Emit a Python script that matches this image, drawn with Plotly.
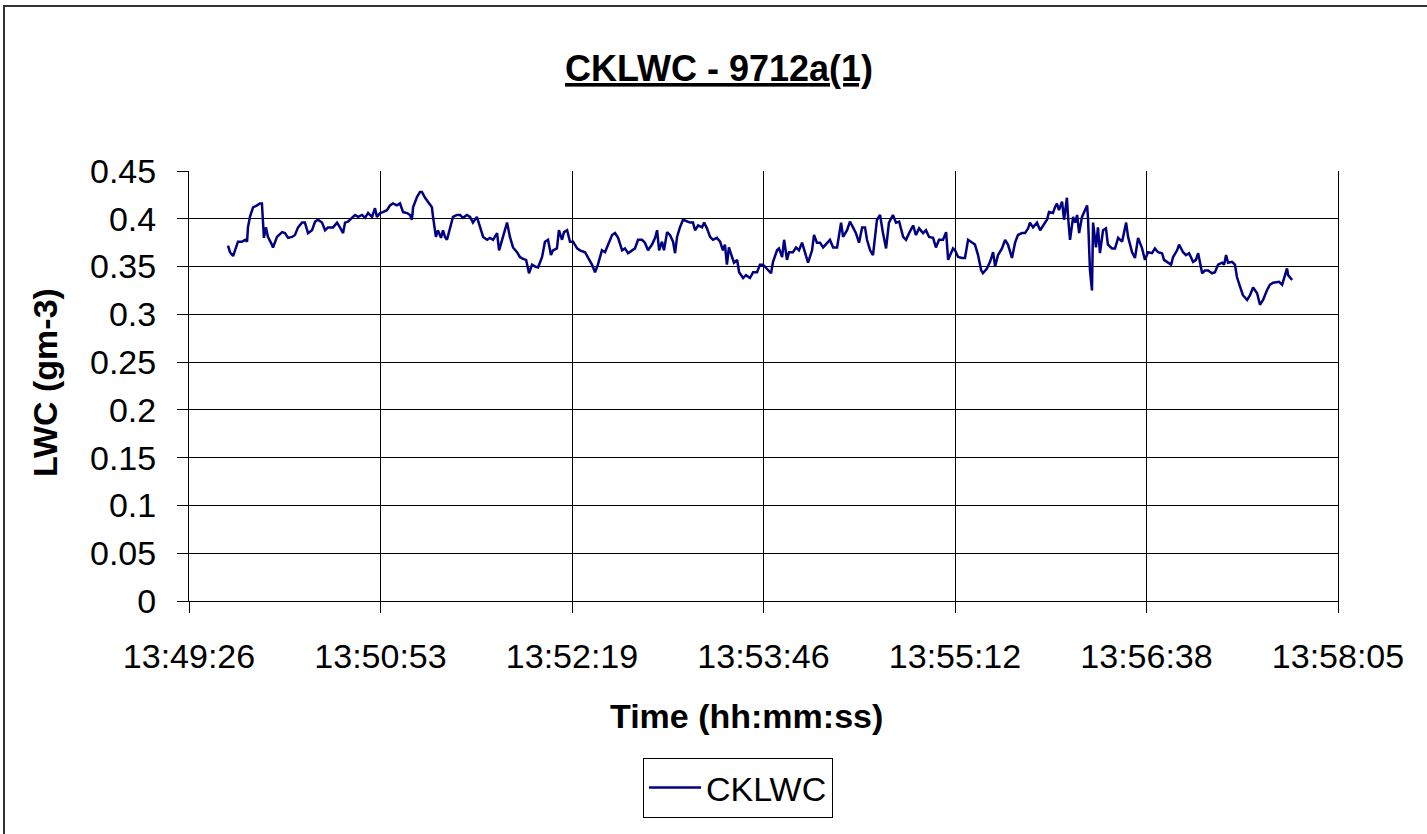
import plotly.graph_objects as go

# ---------------- data ----------------
START_LABEL = "13:49:26"
TICK_STEP_S = 86.4  # 0.001 day
TICK_LABELS = ["13:49:26", "13:50:53", "13:52:19", "13:53:46", "13:55:12", "13:56:38", "13:58:05"]
Y_TICKS = [0, 0.05, 0.1, 0.15, 0.2, 0.25, 0.3, 0.35, 0.4, 0.45]
Y_TICK_LABELS = ["0", "0.05", "0.1", "0.15", "0.2", "0.25", "0.3", "0.35", "0.4", "0.45"]

# seconds after 13:49:26
time_s = [
    17.6, 18.5, 19.9, 21.2, 22.1, 23.9, 25.3, 26.2, 26.6, 27.5,
    28.9, 30.7, 32.0, 32.9, 33.4, 33.8, 34.7, 35.6, 37.4, 37.9,
    39.7, 42.0, 43.3, 44.7, 46.5, 47.8, 49.2, 51.0, 52.3, 53.7,
    55.5, 56.9, 58.2, 60.0, 61.4, 62.7, 65.0, 66.8, 68.1, 69.5,
    70.4, 71.7, 73.5, 74.9, 76.3, 78.1, 79.4, 80.8, 82.6, 83.9,
    84.8, 86.2, 87.5, 89.3, 90.7, 92.0, 93.8, 95.2, 96.6, 98.4,
    99.7, 100.6, 101.1, 102.9, 104.2, 105.1, 106.5, 107.8, 109.6, 110.1,
    111.4, 112.3, 113.7, 114.6, 115.5, 116.4, 117.8, 119.1, 120.9, 122.3,
    123.6, 125.4, 126.8, 128.1, 129.9, 131.3, 132.7, 134.5, 135.8, 137.2,
    139.0, 139.9, 141.2, 142.6, 143.5, 144.8, 146.2, 148.0, 149.3, 150.7,
    152.1, 153.4, 154.8, 156.1, 157.5, 159.3, 160.6, 162.0, 163.3, 164.2,
    166.0, 166.9, 168.3, 169.2, 170.6, 171.9, 173.3, 175.1,
    176.4, 178.7, 180.0, 181.8, 183.2, 184.5, 186.3, 187.7, 189.1, 190.9,
    192.2, 193.6, 195.4, 196.7, 198.1, 199.9, 201.2, 202.6, 204.4, 205.7,
    207.1, 208.9, 210.3, 211.2, 212.1, 213.4, 214.3, 215.7, 217.0, 218.4,
    219.3, 220.2, 221.5, 222.9, 224.7, 226.1, 227.4, 228.3, 229.7, 231.5,
    232.4, 233.7, 235.1, 236.4, 238.2, 239.6, 240.9, 241.8, 242.7, 243.6,
    245.0, 245.9, 247.3, 248.2, 250.0, 251.3, 253.1, 254.5, 256.3, 257.6,
    259.0, 260.8,
    262.6, 263.5, 265.3, 266.2, 267.6, 268.5, 269.8, 270.7, 272.5, 273.9,
    275.2, 276.6, 277.9, 279.3, 281.1, 282.0, 283.3, 284.7, 286.1, 287.9,
    289.2, 290.6, 292.4, 294.2, 295.1, 296.9, 298.2, 299.6, 300.9, 302.3,
    303.7, 305.0, 305.9, 307.3, 308.6, 310.4, 311.8, 313.1, 314.5, 315.8,
    317.6, 319.0, 320.4, 322.2, 323.5, 324.9, 326.7, 328.0, 329.4, 331.2,
    332.5, 333.9, 335.7, 337.0, 338.4, 340.2, 341.6, 342.5,
    344.7, 345.6, 347.0, 348.8, 350.1, 351.5, 353.3, 354.6, 356.0, 357.4,
    358.2, 360.0, 361.4, 362.8, 363.7, 365.0, 366.8, 368.2, 369.5, 371.3,
    372.7, 374.0, 375.8, 377.2, 378.6, 379.4, 380.8, 382.6, 384.0, 385.3,
    387.1, 388.0, 389.8, 390.7, 391.6, 392.5, 393.9, 394.8, 396.1, 396.6,
    397.5, 398.9, 399.8, 400.7, 401.6, 402.9, 403.8, 405.2, 405.6, 406.5,
    407.4, 407.9, 409.2, 410.1, 411.0, 412.4, 413.7, 414.6, 416.4, 417.8,
    419.2, 421.0,
    422.8, 423.7, 425.5, 426.8, 428.2, 430.0, 431.3, 432.7, 434.5, 435.8,
    437.2, 439.0, 439.9, 441.3, 443.1, 444.0, 445.8, 446.7, 448.5, 449.8,
    451.2, 453.0, 454.3, 455.3, 457.1, 458.4, 459.8, 461.6, 462.9, 464.3,
    466.1, 467.0, 467.9, 468.8, 470.6, 471.9, 472.8, 474.2, 475.5, 477.4,
    478.7, 480.1, 481.9, 483.2, 484.6, 486.3, 487.7, 489.1, 490.9, 491.8,
    493.2, 494.1, 495.4, 495.9, 497.7,
]

cklwc = [
    .372, .365, .361, .370, .376, .376, .378, .376, .391, .402,
    .412, .414, .416, .416, .396, .380, .391, .381, .373, .370,
    .381, .386, .385, .380, .381, .383, .391, .396, .396, .385,
    .388, .397, .399, .396, .388, .391, .391, .396, .391, .385,
    .396, .397, .401, .404, .402, .404, .401, .406, .402, .411,
    .402, .406, .407, .409, .414, .416, .414, .416, .407, .406,
    .404, .399, .412, .423, .428, .428, .422, .418, .412, .402,
    .381, .388, .380, .388, .381, .378, .391, .402, .404, .404,
    .401, .404, .402, .396, .402, .391, .381, .378, .380, .378,
    .385, .367, .378, .388, .396, .381, .370, .365, .360, .358,
    .357, .343, .352, .350, .349, .360, .376, .378, .362, .367,
    .369, .388, .378, .386, .388, .376, .376, .369,
    .367, .365, .360, .352, .344, .352, .367, .365, .373, .383,
    .385, .380, .367, .369, .364, .367, .369, .378, .378, .375,
    .367, .373, .380, .388, .367, .376, .367, .386, .383, .376,
    .364, .381, .391, .399, .397, .396, .396, .388, .393, .391,
    .396, .390, .381, .378, .380, .376, .367, .373, .352, .370,
    .360, .354, .357, .344, .338, .341, .338, .344, .344, .352,
    .352, .348,
    .343, .355, .367, .369, .360, .378, .357, .365, .365, .370,
    .367, .375, .365, .354, .367, .383, .375, .375, .370, .375,
    .378, .370, .370, .396, .381, .388, .397, .391, .385, .375,
    .391, .391, .378, .367, .362, .399, .404, .385, .369, .396,
    .404, .396, .397, .381, .378, .385, .393, .383, .390, .385,
    .388, .381, .380, .370, .378, .378, .386, .357,
    .369, .367, .360, .359, .359, .378, .375, .373, .362, .346,
    .343, .348, .355, .365, .350, .362, .369, .378, .373, .359,
    .375, .383, .385, .385, .390, .396, .391, .396, .388, .393,
    .399, .407, .406, .412, .416, .409, .418, .399, .422, .402,
    .378, .402, .396, .404, .385, .402, .407, .414, .401, .346,
    .325, .396, .370, .391, .364, .388, .390, .373, .369, .369,
    .380, .376,
    .396, .381, .365, .359, .380, .369, .357, .365, .364, .369,
    .365, .364, .357, .355, .352, .360, .367, .373, .365, .362,
    .364, .355, .357, .364, .343, .346, .346, .343, .344, .352,
    .354, .352, .362, .354, .355, .352, .339, .329, .320, .315,
    .320, .328, .322, .310, .315, .325, .331, .333, .334, .334,
    .331, .339, .348, .341, .336,
]

if len(time_s) != len(cklwc):
    raise ValueError(f"length mismatch {len(time_s)} vs {len(cklwc)}")

x_tickvals = [i * TICK_STEP_S for i in range(len(TICK_LABELS))]

FONT = "Liberation Sans, Arial, sans-serif"
W, H = 1427, 834
L, R, T, B = 189, 89, 171, 233
PW, PH = W - L - R, H - T - B


def px(xp):
    return (xp - L) / PW


def py(yp):
    return (H - B - yp) / PH


fig = go.Figure()
fig.add_trace(go.Scatter(
    x=time_s, y=cklwc, mode="lines", name="CKLWC",
    line=dict(color="#000080", width=2.5),
))

fig.update_layout(
    width=W, height=H,
    margin=dict(l=L, r=R, t=T, b=B),
    paper_bgcolor="white", plot_bgcolor="white",
    font=dict(family=FONT, color="black", size=34),
    showlegend=True,
    legend=dict(
        x=px(643), y=py(758), xanchor="left", yanchor="top",
        bordercolor="black", borderwidth=1, bgcolor="white",
        font=dict(size=34, family=FONT, color="black"),
        itemwidth=52,
    ),
    xaxis=dict(
        range=[0, x_tickvals[-1]], tickvals=x_tickvals, ticktext=TICK_LABELS,
        showgrid=True, gridcolor="black", gridwidth=1,
        showline=True, linecolor="black", linewidth=1,
        ticks="outside", ticklen=11, tickcolor="black", tickwidth=1,
        tickfont=dict(size=34, family=FONT, color="black"),
        zeroline=False, fixedrange=True, ticklabelstandoff=14,
    ),
    yaxis=dict(
        range=[0, 0.45], tickvals=Y_TICKS, ticktext=Y_TICK_LABELS,
        showgrid=True, gridcolor="black", gridwidth=1,
        showline=True, linecolor="black", linewidth=1, mirror=True,
        ticks="outside", ticklen=11, tickcolor="black", tickwidth=1,
        tickfont=dict(size=34, family=FONT, color="black"),
        zeroline=False, fixedrange=True, ticklabelstandoff=14,
    ),
    annotations=[
        dict(text="<b><u>CKLWC - 9712a(1)</u></b>", xref="paper", yref="paper",
             x=px(719), y=py(68), xanchor="center", yanchor="middle",
             showarrow=False, font=dict(size=36, family=FONT, color="black")),
        dict(text="<b>Time (hh:mm:ss)</b>", xref="paper", yref="paper",
             x=px(746), y=py(716), xanchor="center", yanchor="middle",
             showarrow=False, font=dict(size=34, family=FONT, color="black")),
        dict(text="<b>LWC (gm-3)</b>", xref="paper", yref="paper",
             x=px(45), y=py(383), xanchor="center", yanchor="middle",
             textangle=-90, showarrow=False,
             font=dict(size=34, family=FONT, color="black")),
    ],
    shapes=[
        dict(type="rect", xref="paper", yref="paper",
             x0=px(4), x1=px(1445), y0=py(860), y1=py(6),
             line=dict(color="#333333", width=2), fillcolor="rgba(0,0,0,0)",
             layer="below"),
    ],
)

fig.write_html("out.html", config={"displayModeBar": False},
               post_script="document.body.style.margin='0';")
